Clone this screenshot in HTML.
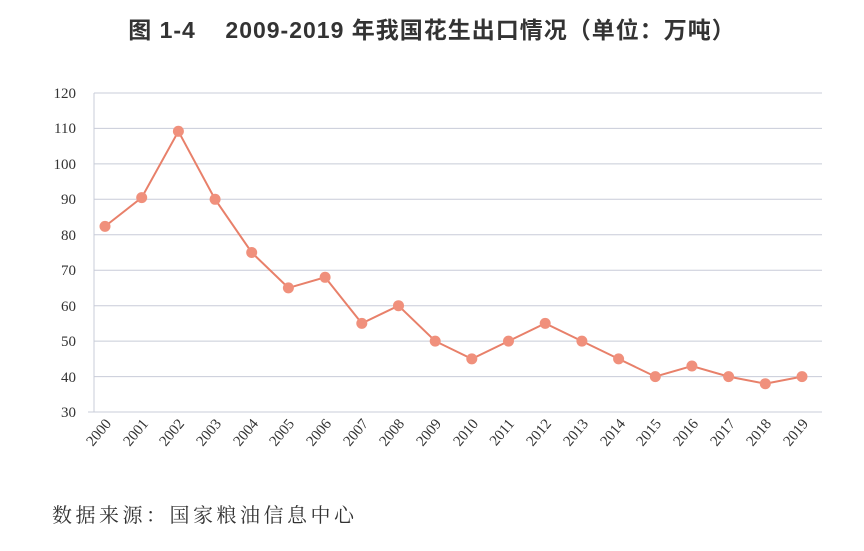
<!DOCTYPE html>
<html><head><meta charset="utf-8"><style>
body{margin:0;background:#fff;width:864px;height:546px;overflow:hidden}
</style></head><body>
<svg width="864" height="546" xmlns="http://www.w3.org/2000/svg">
<text x="432" y="38" text-anchor="middle" font-family="Liberation Sans, Noto Sans CJK SC, sans-serif" font-size="23" font-weight="bold" fill="#333" letter-spacing="1" style="white-space:pre">图 1-4    2009-2019 年我国花生出口情况（单位：万吨）</text>
<g stroke="#c8ccd8" stroke-width="1">
<line x1="94" y1="93" x2="822" y2="93"/><line x1="94" y1="128.4" x2="822" y2="128.4"/>
<line x1="94" y1="163.9" x2="822" y2="163.9"/><line x1="94" y1="199.3" x2="822" y2="199.3"/>
<line x1="94" y1="234.8" x2="822" y2="234.8"/><line x1="94" y1="270.2" x2="822" y2="270.2"/>
<line x1="94" y1="305.7" x2="822" y2="305.7"/><line x1="94" y1="341.1" x2="822" y2="341.1"/>
<line x1="94" y1="376.6" x2="822" y2="376.6"/><line x1="88" y1="412" x2="822" y2="412"/>
<line x1="94" y1="93" x2="94" y2="412"/>
</g>
<g font-family="Liberation Serif, serif" font-size="15" fill="#333" text-anchor="end">
<text x="76" y="98">120</text><text x="76" y="133">110</text><text x="76" y="169">100</text>
<text x="76" y="204">90</text><text x="76" y="240">80</text><text x="76" y="275">70</text>
<text x="76" y="311">60</text><text x="76" y="346">50</text><text x="76" y="382">40</text><text x="76" y="417">30</text>
</g>
<polyline fill="none" stroke="#e8806a" stroke-width="2" points="105,226.4 141.7,197.6 178.4,131.3 215.1,199.3 251.7,252.5 288.4,287.9 325.1,277.3 361.8,323.4 398.5,305.7 435.2,341.1 471.8,358.9 508.5,341.1 545.2,323.4 581.9,341.1 618.6,358.9 655.3,376.6 691.9,366 728.6,376.6 765.3,383.7 802,376.6"/>
<g fill="#f0907c">
<circle cx="105" cy="226.4" r="5.5"/><circle cx="141.7" cy="197.6" r="5.5"/><circle cx="178.4" cy="131.3" r="5.5"/><circle cx="215.1" cy="199.3" r="5.5"/><circle cx="251.7" cy="252.5" r="5.5"/><circle cx="288.4" cy="287.9" r="5.5"/><circle cx="325.1" cy="277.3" r="5.5"/><circle cx="361.8" cy="323.4" r="5.5"/><circle cx="398.5" cy="305.7" r="5.5"/><circle cx="435.2" cy="341.1" r="5.5"/><circle cx="471.8" cy="358.9" r="5.5"/><circle cx="508.5" cy="341.1" r="5.5"/><circle cx="545.2" cy="323.4" r="5.5"/><circle cx="581.9" cy="341.1" r="5.5"/><circle cx="618.6" cy="358.9" r="5.5"/><circle cx="655.3" cy="376.6" r="5.5"/><circle cx="691.9" cy="366" r="5.5"/><circle cx="728.6" cy="376.6" r="5.5"/><circle cx="765.3" cy="383.7" r="5.5"/><circle cx="802" cy="376.6" r="5.5"/>
</g>
<g font-family="Liberation Serif, serif" font-size="15" fill="#333" text-anchor="end">
<text transform="translate(112,424) rotate(-50)">2000</text><text transform="translate(149,424) rotate(-50)">2001</text><text transform="translate(185,424) rotate(-50)">2002</text><text transform="translate(222,424) rotate(-50)">2003</text><text transform="translate(259,424) rotate(-50)">2004</text><text transform="translate(295,424) rotate(-50)">2005</text><text transform="translate(332,424) rotate(-50)">2006</text><text transform="translate(369,424) rotate(-50)">2007</text><text transform="translate(405,424) rotate(-50)">2008</text><text transform="translate(442,424) rotate(-50)">2009</text><text transform="translate(479,424) rotate(-50)">2010</text><text transform="translate(515,424) rotate(-50)">2011</text><text transform="translate(552,424) rotate(-50)">2012</text><text transform="translate(589,424) rotate(-50)">2013</text><text transform="translate(626,424) rotate(-50)">2014</text><text transform="translate(662,424) rotate(-50)">2015</text><text transform="translate(699,424) rotate(-50)">2016</text><text transform="translate(736,424) rotate(-50)">2017</text><text transform="translate(772,424) rotate(-50)">2018</text><text transform="translate(809,424) rotate(-50)">2019</text>
</g>
<text x="52" y="522" font-family="Liberation Serif, Noto Serif CJK SC, serif" font-size="20" fill="#333" letter-spacing="3.5">数据来源：国家粮油信息中心</text>
</svg>
</body></html>
